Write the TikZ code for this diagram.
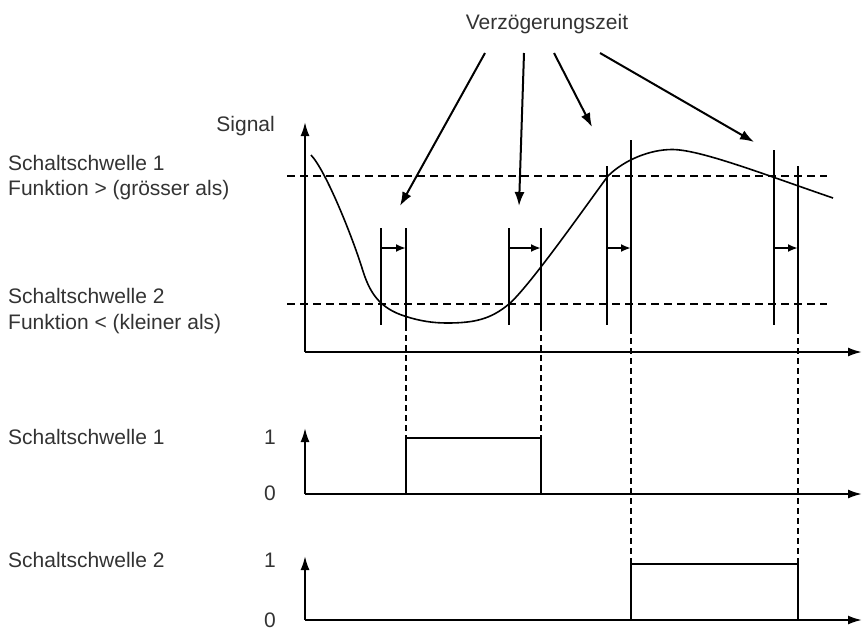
\documentclass[tikz,border=0pt]{standalone}
\usepackage{fontspec}
\setmainfont{Liberation Sans}
\usetikzlibrary{arrows.meta}
\begin{document}
\begin{tikzpicture}[x=1pt,y=-1pt,
  txt/.style={inner sep=0pt, text=black!80, font=\fontsize{21}{24}\selectfont},
  lbl/.style={txt, anchor=base west},
  axis/.style={line width=2pt, -{Latex[length=14pt,width=9pt]}},
  thr/.style={line width=1.8pt, dash pattern=on 8pt off 5pt},
  guide/.style={line width=1.6pt, dash pattern=on 6pt off 4pt},
  tickline/.style={line width=2pt},
  delay/.style={line width=2pt, -{Latex[length=10pt,width=8pt]}},
  pointer/.style={line width=2pt, -{Latex[length=14pt,width=10pt]}},
  pulse/.style={line width=2pt},
  curve/.style={line width=1.6pt}]
\useasboundingbox (0,0) rectangle (864,643);

% ---------- texts ----------
\node[txt, anchor=base] (vz) at (547,29) {Verzögerungszeit};
\node[txt, anchor=base east] (sig) at (275,131) {Signal};
\node[lbl] (s1a) at (8,170) {Schaltschwelle 1};
\node[lbl] (s1b) at (8,195) {Funktion > (grösser als)};
\node[lbl] (s2a) at (8,303) {Schaltschwelle 2};
\node[lbl] (s2b) at (8,329) {Funktion < (kleiner als)};
\node[lbl] (b1) at (8,444) {Schaltschwelle 1};
\node[lbl] (b2) at (8,567) {Schaltschwelle 2};
\node[lbl] (b1h) at (264,444) {1};
\node[lbl] (b1l) at (264,500) {0};
\node[lbl] (b2h) at (264,567) {1};
\node[lbl] (b2l) at (264,627) {0};

% ---------- coordinates ----------
\coordinate (o1) at (305,352);
\coordinate (y1) at (305,122);
\coordinate (x1) at (862,352);
\coordinate (o2) at (305,494);
\coordinate (y2) at (305,428);
\coordinate (x2) at (862,494);
\coordinate (o3) at (305,620);
\coordinate (y3) at (305,556);
\coordinate (x3) at (862,620);

% ---------- axes ----------
\draw[axis] (o1) -- (y1);
\draw[axis] (o1) -- (x1);
\draw[axis] (o2) -- (y2);
\draw[axis] (o2) -- (x2);
\draw[axis] (o3) -- (y3);
\draw[axis] (o3) -- (x3);

% ---------- thresholds ----------
\coordinate (t1a) at (287,176);
\coordinate (t1b) at (827,176);
\coordinate (t2a) at (287,304);
\coordinate (t2b) at (827,304);
\draw[thr] (t1a) -- (t1b);
\draw[thr] (t2a) -- (t2b);

% ---------- signal curve ----------
\draw[curve] (311,155)
  .. controls (326,171) and (352,236) .. (362,268)
  .. controls (369,291) and (378,308) .. (406,316.5)
  .. controls (420,321) and (433,323) .. (447,323)
  .. controls (475,323) and (491,319) .. (509,304)
  .. controls (530,286) and (590,200) .. (608,176)
  .. controls (624,160) and (650,149.5) .. (672,149.5)
  .. controls (700,149.5) and (763,174) .. (833,198);

% ---------- delay markers ----------
% pair 1
\coordinate (p1a) at (381,228); \coordinate (p1b) at (381,325);
\coordinate (q1a) at (406,228); \coordinate (q1b) at (406,325);
\coordinate (q1c) at (406,438);
\draw[tickline] (p1a) -- (p1b);
\draw[tickline] (q1a) -- (q1b);
\draw[guide] (q1b) -- (q1c);
\draw[delay] (381,248) -- (406,248);
% pair 2
\coordinate (p2a) at (509,228); \coordinate (p2b) at (509,325);
\coordinate (q2a) at (541,228); \coordinate (q2b) at (541,325);
\coordinate (q2c) at (541,438);
\draw[tickline] (p2a) -- (p2b);
\draw[tickline] (q2a) -- (q2b);
\draw[guide] (q2b) -- (q2c);
\draw[delay] (509,248) -- (541,248);
% pair 3
\coordinate (p3a) at (607,166); \coordinate (p3b) at (607,325);
\coordinate (q3a) at (631,140); \coordinate (q3b) at (631,328);
\coordinate (q3c) at (631,564);
\draw[tickline] (p3a) -- (p3b);
\draw[tickline] (q3a) -- (q3b);
\draw[guide] (q3b) -- (q3c);
\draw[delay] (607,248) -- (631,248);
% pair 4
\coordinate (p4a) at (774,150); \coordinate (p4b) at (774,325);
\coordinate (q4a) at (798,166); \coordinate (q4b) at (798,328);
\coordinate (q4c) at (798,564);
\draw[tickline] (p4a) -- (p4b);
\draw[tickline] (q4a) -- (q4b);
\draw[guide] (q4b) -- (q4c);
\draw[delay] (774,248) -- (798,248);

% ---------- pointers from label ----------
\coordinate (a1s) at (485,53); \coordinate (a1e) at (400,206);
\coordinate (a2s) at (524,53); \coordinate (a2e) at (519,206);
\coordinate (a3s) at (554,53); \coordinate (a3e) at (592,127);
\coordinate (a4s) at (600,53); \coordinate (a4e) at (754,142);
\draw[pointer] (a1s) -- (a1e);
\draw[pointer] (a2s) -- (a2e);
\draw[pointer] (a3s) -- (a3e);
\draw[pointer] (a4s) -- (a4e);

% ---------- output pulses ----------
\draw[pulse] (406,494) -- (q1c) -- (q2c) -- (541,494);
\draw[pulse] (631,620) -- (q3c) -- (q4c) -- (798,620);
\end{tikzpicture}
\end{document}
